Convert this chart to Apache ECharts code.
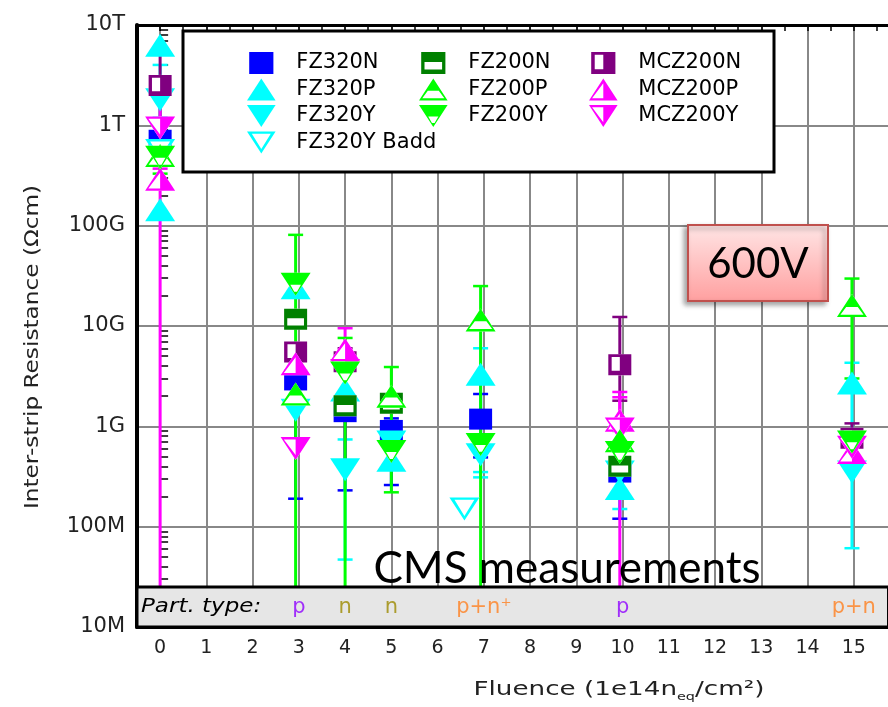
<!DOCTYPE html>
<html><head><meta charset="utf-8">
<script src="https://cdn.jsdelivr.net/npm/echarts@6/dist/echarts.min.js"></script>
<style>html,body{margin:0;padding:0;background:#fff}#c{width:888px;height:707px}</style>
</head><body><div id="c"></div>
<script>
// ---------- data ----------
const xTickLabels = ['0','1','2','3','4','5','6','7','8','9','10','11','12','13','14','15'];
const yTickLabels = ['10M','100M','1G','10G','100G','1T','10T'];

// [fluence, resistance, errLow, errHigh]  (1e6 = bar runs below the axis)
const FZ320N = [
  [0, 7.1e11, null, null],
  [2.93, 2.9e9, 1.9e8, 5.8e9],
  [4, 1.4e9, 2.3e8, 1.8e9],
  [5, 9.1e8, 2.6e8, 1.2e9],
  [6.93, 1.18e9, 4.9e8, 2.1e9],
  [9.94, 3.5e8, 1.2e8, 1.14e9]
];
const FZ320P = [
  [0, 6.3e12, null, null],
  [0, 1.44e11, null, null],
  [2.93, 2.4e10, null, null],
  [4, 2.3e9, 1.9e9, 5.6e9],
  [5, 4.6e8, null, null],
  [6.93, 3.3e9, 3.5e8, 6.0e9],
  [9.94, 2.4e8, 1.5e8, 4.0e8],
  [14.96, 2.7e9, null, null]
];
const FZ320Y = [
  [0, 1.8e12, 1.2e12, 4.0e12],
  [2.93, 1.45e9, null, null],
  [4, 3.7e8, 4.7e7, 7.4e8],
  [5, 7.0e8, null, null],
  [6.93, 5.2e8, 3.1e8, 7.0e8],
  [9.94, 3.5e8, null, null],
  [14.96, 3.5e8, 6.1e7, 4.3e9]
];
const FZ320Y_Badd = [
  [0, 5.6e11, null, null],
  [6.58, 1.5e8, null, null]
];
const FZ200N = [
  [2.93, 1.17e10, null, null],
  [4, 1.6e9, null, null],
  [5, 1.7e9, null, null],
  [9.94, 4.0e8, null, null]
];
const FZ200P = [
  [0, 5.0e11, 3.3e11, 1.15e12],
  [2.93, 2.1e9, null, null],
  [5, 2.0e9, 2.2e8, 3.9e9],
  [6.93, 1.15e10, 1e6, 2.5e10],
  [9.94, 7.2e8, null, null],
  [14.96, 1.6e10, 3.0e9, 2.97e10]
];
const FZ200Y = [
  [0, 4.8e11, null, null],
  [2.93, 2.6e10, 1e6, 8.1e10],
  [4, 3.4e9, 1e6, 7.6e9],
  [5, 5.6e8, 4.3e8, 7.2e8],
  [6.93, 6.6e8, null, null],
  [9.94, 5.5e8, 2.0e8, 9.0e8],
  [14.96, 7.0e8, null, null]
];
const MCZ200N = [
  [0, 2.5e12, 8.3e11, 5.9e12],
  [2.93, 5.5e9, null, null],
  [4, 4.4e9, 3.9e8, 6.0e9],
  [9.94, 4.1e9, 1.8e9, 1.23e10],
  [14.96, 7.6e8, 4.3e8, 1.07e9]
];
const MCZ200P = [
  [0, 2.9e11, 1e6, 3.7e11],
  [2.93, 4.2e9, 1.6e9, 6.5e9],
  [4, 5.8e9, 1.4e9, 9.5e9],
  [9.94, 1.15e9, 1e6, 2.2e9],
  [14.96, 5.5e8, null, null]
];
const MCZ200Y = [
  [0, 9.4e11, 6.5e11, 1.9e12],
  [2.93, 6.0e8, null, null],
  [4, 3.6e9, null, null],
  [9.94, 9.4e8, 7.0e8, 1.95e9],
  [14.96, 6.2e8, null, null]
];

const partX = [3, 4, 5, 7, 10, 15];
const partLabels = ['p', 'n', 'n', 'p+n⁺', 'p', 'p+n'];

// ---------- styles ----------
const FONT = 'DejaVu Sans';
const TRI_UP = 'M65,0L130,100L0,100Z';
const TRI_DN = 'M0,0L130,0L65,100Z';
const SQ = 'M0,0L110,0L110,100L0,100Z';
const TRI = [30, 23], SQS = [23, 21];
const styles = {
  'FZ320N':      {color:'#0000ff', outer:SQ, hole:'', size:SQS},
  'FZ320P':      {color:'#00ffff', outer:TRI_UP, hole:'', size:TRI},
  'FZ320Y':      {color:'#00ffff', outer:TRI_DN, hole:'', size:TRI},
  'FZ320Y Badd': {color:'#00ffff', outer:TRI_DN, hole:'M22,10L65,80L108,10Z', size:TRI},
  'FZ200N':      {color:'#008000', outer:SQ, hole:'M15,46L15,80L95,80L95,46Z', size:SQS},
  'FZ200P':      {color:'#00ff00', outer:TRI_UP, hole:'M40,56L15,90L115,90L90,56Z', size:TRI},
  'FZ200Y':      {color:'#00ff00', outer:TRI_DN, hole:'M42,52L59,82L71,82L88,52Z', size:TRI},
  'MCZ200N':     {color:'#800080', outer:SQ, hole:'M16,13L16,78L55,78L55,13Z', size:SQS},
  'MCZ200P':     {color:'#ff00ff', outer:TRI_UP, hole:'M65,22L14,90L65,90Z', size:TRI},
  'MCZ200Y':     {color:'#ff00ff', outer:TRI_DN, hole:'M14,10L65,78L65,10Z', size:TRI}
};
const dataMap = {
  'FZ320N':FZ320N, 'FZ320P':FZ320P, 'FZ320Y':FZ320Y, 'FZ320Y Badd':FZ320Y_Badd,
  'FZ200N':FZ200N, 'FZ200P':FZ200P, 'FZ200Y':FZ200Y,
  'MCZ200N':MCZ200N, 'MCZ200P':MCZ200P, 'MCZ200Y':MCZ200Y
};
const drawOrder = ['FZ320N','FZ320P','FZ320Y','FZ320Y Badd','MCZ200N','MCZ200P','MCZ200Y','FZ200N','FZ200P','FZ200Y'];
const partColors = {'p':'#8f00ff', 'n':'#9c8a00', 'p+n⁺':'#ff7f1f', 'p+n':'#ff7f1f'};

const X_MIN = -0.5, X_MAX = 15.75, Y_MIN = 1e7, Y_MAX = 1e13;
const STRIP_TOP = 2.5e7, STRIP_LABEL_Y = 1.58e7;

function makeErr(color) {
  return function (params, api) {
    const x = api.value(0), lo = api.value(1), hi = api.value(2);
    const pH = api.coord([x, hi]), pL = api.coord([x, lo]);
    const cs = params.coordSys;
    const top = cs.y, bottom = cs.y + cs.height;
    const px = pH[0];
    const ch = [{type:'line', shape:{x1:px, y1:Math.max(pH[1], top), x2:px, y2:Math.min(pL[1], bottom)},
                 style:{stroke:color, lineWidth:3}}];
    if (pH[1] >= top) ch.push({type:'line', shape:{x1:px-7.5, y1:pH[1], x2:px+7.5, y2:pH[1]}, style:{stroke:color, lineWidth:2.5}});
    if (pL[1] <= bottom) ch.push({type:'line', shape:{x1:px-7.5, y1:pL[1], x2:px+7.5, y2:pL[1]}, style:{stroke:color, lineWidth:2.5}});
    return {type:'group', children:ch};
  };
}

const series = [];
drawOrder.forEach(function (name) {
  const st = styles[name], pts = dataMap[name];
  const errs = pts.filter(p => p[2] !== null).map(p => [p[0], p[2], p[3]]);
  if (errs.length) series.push({type:'custom', name:'_err_' + name, renderItem:makeErr(st.color),
    data:errs, encode:{x:0, y:[1,2]}, silent:true, itemStyle:{color:st.color}, z:2});
  const xy = pts.map(p => [p[0], p[1]]);
  if (st.hole) series.push({type:'scatter', name:'_bg_' + name, symbol:'path://' + st.outer,
    symbolSize:st.size, itemStyle:{color:'#ffffff', opacity:1}, data:xy, silent:true, z:2});
  series.push({type:'scatter', name:name, symbol:'path://' + st.outer + st.hole, symbolSize:st.size,
    itemStyle:{color:st.color, opacity:1}, emphasis:{disabled:true}, data:xy, z:2});
});

// particle-type strip labels (drawn above the strip rectangle)
series.push({
  type:'scatter', name:'_part', z:7, silent:true, symbolSize:1,
  itemStyle:{color:'rgba(0,0,0,0)'},
  data: partX.map((x, i) => ({value:[x, STRIP_LABEL_Y], name:partLabels[i],
    label:{color:partColors[partLabels[i]]}})),
  label:{show:true, position:'inside', formatter:'{b}', fontFamily:FONT, fontSize:21}
});

const minorTicks = [];
for (let e = 7; e < 13; e++) for (let m = 2; m <= 9; m++) minorTicks.push(m * Math.pow(10, e));

function legendCol(names, left) {
  return {
    data: names.map(n => ({name:n, icon:'path://' + styles[n].outer + styles[n].hole})),
    left:left, top:52, orient:'vertical', padding:0,
    itemWidth:60, itemHeight:22, itemGap:4.5, symbolKeepAspect:true, selectedMode:false,
    textStyle:{fontFamily:FONT, fontSize:21, color:'#000', lineHeight:22}, z:4
  };
}

const graphics = [
  {id:'legendBox', type:'rect', z:3, shape:{x:183, y:31, width:591, height:141},
   style:{fill:'#fff', stroke:'#000', lineWidth:3}},
  {id:'vBox', type:'rect', z:6, shape:{x:688, y:225, width:140, height:76},
   style:{fill:new echarts.graphic.LinearGradient(0,0,0,1,[{offset:0,color:'#ffe6e6'},{offset:1,color:'#ff9f9f'}]),
          stroke:'#c0504d', lineWidth:2, shadowBlur:5, shadowOffsetX:-3, shadowOffsetY:3, shadowColor:'rgba(0,0,0,0.35)'}},
  {id:'vText', type:'text', z:7, x:758, y:264,
   style:{text:'600V', fontFamily:'Lato', fontSize:42, fill:'#000', align:'center', verticalAlign:'middle'}},
  {id:'cms', type:'text', z:10, x:567, y:569,
   style:{text:'CMS measurements', fontFamily:'Lato', fontSize:44, fill:'#000', align:'center', verticalAlign:'middle'}},
  {id:'partTitle', type:'text', z:10, x:141, y:607, scaleX:1.15,
   style:{text:'Part. type:', fontFamily:FONT, fontStyle:'italic', fontSize:20, fill:'#000', align:'left', verticalAlign:'middle'}},
  {id:'yTitle', type:'text', z:10, x:33, y:347, rotation:Math.PI/2, scaleX:1.16,
   style:{text:'Inter-strip Resistance (Ωcm)', fontFamily:FONT, fontSize:20, fill:'#222', align:'center', verticalAlign:'middle'}},
  {id:'xTitle', type:'text', z:10, x:619, y:690, scaleX:1.31,
   style:{text:'Fluence (1e14n{s|eq}/cm²)', fontFamily:FONT, fontSize:20, fill:'#222', align:'center', verticalAlign:'middle',
          rich:{s:{fontFamily:FONT, fontSize:11, fill:'#222', padding:[14,0,0,0]}}}}
];

const option = {
  animation:false,
  backgroundColor:'#fff',
  grid:{left:137, top:25, width:751.5, height:602, containLabel:false, outerBoundsMode:'none'},
  xAxis:[
    {type:'value', position:'bottom', min:X_MIN, max:X_MAX, interval:0.5,
     axisLine:{show:true, onZero:false, lineStyle:{color:'#000', width:3}},
     axisTick:{show:false},
     axisLabel:{margin:12, fontFamily:FONT, fontSize:19, color:'#222',
       formatter:v => Number.isInteger(v) && v >= 0 ? xTickLabels[v] : ''},
     splitLine:{show:true, lineStyle:{color:['rgba(0,0,0,0)', '#888888'], width:2}}},
    {type:'value', position:'top', min:X_MIN, max:X_MAX, interval:0.5,
     axisLine:{show:true, onZero:false, lineStyle:{color:'#000', width:3}},
     axisTick:{show:true, inside:true, length:6, lineStyle:{color:'#000', width:1.5}},
     axisLabel:{show:false}, splitLine:{show:false}}
  ],
  yAxis:[
    {type:'log', logBase:10, min:Y_MIN, max:Y_MAX, position:'left',
     axisLine:{show:true, onZero:false, lineStyle:{color:'#000', width:4}},
     axisTick:{show:false},
     axisLabel:{margin:12, fontFamily:FONT, fontSize:21, color:'#222',
       formatter:v => yTickLabels[Math.round(Math.log10(v)) - 7]},
     splitLine:{show:true, lineStyle:{color:'#888888', width:2}}},
    {type:'log', logBase:10, min:Y_MIN, max:Y_MAX, position:'left',
     axisLine:{show:false}, axisLabel:{show:false}, splitLine:{show:false},
     axisTick:{show:true, inside:true, length:8, customValues:minorTicks, lineStyle:{color:'#000', width:1.5}}}
  ],
  legend:[
    legendCol(['FZ320N','FZ320P','FZ320Y','FZ320Y Badd'], 247),
    legendCol(['FZ200N','FZ200P','FZ200Y'], 419),
    legendCol(['MCZ200N','MCZ200P','MCZ200Y'], 589)
  ],
  graphic:graphics,
  series:series
};

const chart = echarts.init(document.getElementById('c'), null, {renderer:'canvas'});
chart.setOption(option);
// grey "Part. type" strip, placed through the axis scales
const pA = chart.convertToPixel({xAxisIndex:0, yAxisIndex:0}, [X_MIN, STRIP_TOP]);
const pB = chart.convertToPixel({xAxisIndex:0, yAxisIndex:0}, [X_MAX, Y_MIN]);
option.graphic = graphics.concat([{id:'strip', type:'rect', z:5,
  shape:{x:pA[0], y:pA[1], width:pB[0]-pA[0], height:pB[1]-pA[1]},
  style:{fill:'#e6e6e6', stroke:'#000', lineWidth:3}}]);
chart.setOption(option, true);
</script>
</body></html>
